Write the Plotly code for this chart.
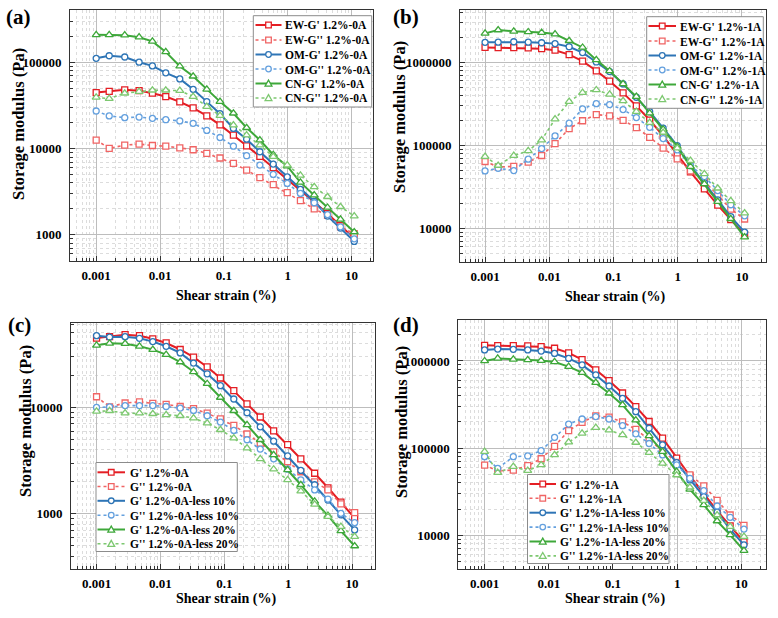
import plotly.graph_objects as go

# ---------------- data ----------------
STRAIN = [0.001, 0.0016, 0.0028, 0.0047, 0.0076, 0.0123, 0.0204, 0.033, 0.054, 0.087,
          0.141, 0.227, 0.366, 0.593, 0.982, 1.58, 2.6, 4.2, 6.7, 11.0]

# shared samples (panels a/c and b/d)
G1_0A = [44800, 46300, 48200, 47200, 44100, 40300, 35000, 29700, 24000, 18900,
         14400, 10800, 8130, 6030, 4480, 3290, 2410, 1760, 1290, 915]
G2_0A = [12600, 10100, 11000, 11300, 10900, 10700, 10200, 9730, 8830, 7800,
         6770, 5630, 4610, 3830, 3090, 2490, 2000, 1680, 1240, 1030]
G1_1A = [1.51e6, 1.50e6, 1.50e6, 1.49e6, 1.46e6, 1.40e6, 1.24e6, 1.035e6, 791000, 594000,
         429000, 299000, 202000, 130000, 76700, 48000, 30000, 19100, 12800, 8420]
G2_1A = [64000, 54800, 56000, 62900, 75600, 105000, 159000, 198000, 235000, 227000,
         200000, 164000, 125000, 92700, 68800, 49300, 37000, 25200, 17100, 13000]

# panel (a)
OM_G1_0A = [112000, 120000, 116000, 101000, 91500, 75900, 64600, 48900, 35200, 25500,
            17200, 12900, 9220, 6630, 4720, 3370, 2450, 1650, 1200, 840]
OM_G2_0A = [27400, 24000, 22900, 23300, 22500, 21700, 21000, 19700, 16300, 13500,
            10700, 8290, 6460, 5030, 3950, 3030, 2360, 1720, 1240, 900]
CN_G1_0A = [210000, 210000, 208000, 197000, 176000, 133000, 90700, 69300, 48900, 35200,
            25800, 17500, 12600, 8520, 6280, 4060, 2890, 2080, 1510, 1080]
CN_G2_0A = [39500, 38100, 44000, 46000, 47700, 47700, 47200, 40300, 30800, 24200,
            18800, 14400, 11000, 8080, 6460, 4900, 3610, 2770, 2120, 1650]

# panel (b)
OM_G1_1A = [1.74e6, 1.75e6, 1.77e6, 1.75e6, 1.72e6, 1.68e6, 1.54e6, 1.31e6, 1.01e6, 773000,
            550000, 380000, 255000, 161000, 99600, 57100, 35700, 22100, 13900, 9040]
OM_G2_1A = [49300, 53100, 49800, 68200, 91600, 130000, 185000, 275000, 318000, 310000,
            270000, 216000, 165000, 121000, 88300, 57000, 42200, 28600, 19300, 14200]
CN_G1_1A = [2.23e6, 2.45e6, 2.36e6, 2.32e6, 2.28e6, 2.19e6, 1.82e6, 1.51e6, 1.07e6, 787000,
            550000, 386000, 244000, 156000, 96800, 55600, 34400, 21100, 13100, 7870]
CN_G2_1A = [73400, 57300, 75500, 85900, 116000, 207000, 336000, 432000, 465000, 412000,
            343000, 255000, 188000, 143000, 92500, 65700, 45400, 30500, 21500, 15300]

# panel (c)
G1_0A_L10 = [47200, 45800, 46200, 44600, 41500, 37500, 32500, 26100, 20700, 16000,
             12000, 8910, 6580, 4820, 3510, 2560, 1880, 1350, 980, 708]
G2_0A_L10 = [10000, 10100, 10400, 10400, 10400, 10200, 9860, 9370, 8350, 7280,
             6080, 4970, 4060, 3290, 2630, 2090, 1680, 1380, 1010, 828]
G1_0A_L20 = [38300, 40000, 39700, 37500, 34900, 31300, 26700, 21600, 16700, 12400,
             9310, 6870, 4970, 3590, 2590, 1880, 1310, 965, 692, 500]
G2_0A_L20 = [9170, 9310, 8850, 8850, 8720, 8530, 8350, 7940, 7130, 6170,
             5150, 4150, 3290, 2630, 2090, 1640, 1230, 944, 761, 612]

# panel (d)
G1_1A_L10 = [1.34e6, 1.37e6, 1.36e6, 1.34e6, 1.30e6, 1.22e6, 1.07e6, 900000, 691000, 516000,
             373000, 262000, 169000, 109000, 68200, 43200, 27800, 18400, 11700, 7750]
G2_1A_L10 = [79800, 58700, 79800, 81300, 93600, 133000, 189000, 216000, 230000, 216000,
             181000, 146000, 113000, 83600, 64100, 45100, 32500, 21700, 16100, 11800]
G1_1A_L20 = [1.0e6, 1.07e6, 1.045e6, 1.03e6, 1.01e6, 975000, 861000, 735000, 564000, 426000,
             313000, 210000, 138000, 91200, 53700, 33700, 22300, 14600, 10100, 6670]
G2_1A_L20 = [91200, 52400, 61300, 55200, 64100, 83600, 117000, 148000, 172000, 161000,
             142000, 116000, 88800, 67000, 49200, 35600, 25000, 17100, 12600, 9660]

NAMES_A = ["EW-G' 1.2%-0A", "EW-G'' 1.2%-0A", "OM-G' 1.2%-0A", "OM-G'' 1.2%-0A",
           "CN-G' 1.2%-0A", "CN-G'' 1.2%-0A"]
NAMES_B = ["EW-G' 1.2%-1A", "EW-G'' 1.2%-1A", "OM-G' 1.2%-1A", "OM-G'' 1.2%-1A",
           "CN-G' 1.2%-1A", "CN-G'' 1.2%-1A"]
NAMES_C = ["G' 1.2%-0A", "G'' 1.2%-0A", "G' 1.2%-0A-less 10%", "G'' 1.2%-0A-less 10%",
           "G' 1.2%-0A-less 20%", "G'' 1.2%-0A-less 20%"]
NAMES_D = ["G' 1.2%-1A", "G'' 1.2%-1A", "G' 1.2%-1A-less 10%", "G'' 1.2%-1A-less 10%",
           "G' 1.2%-1A-less 20%", "G'' 1.2%-1A-less 20%"]

X_TICKS = [0.001, 0.01, 0.1, 1, 10]
X_TICKTEXT = ["0.001", "0.01", "0.1", "1", "10"]
Y_TICKS_A = [1000, 10000, 100000]
Y_TICKS_B = [10000, 100000, 1000000]
Y_TICKS_C = [1000, 10000]
Y_TICKS_D = [10000, 100000, 1000000]

# ---------------- styling ----------------
W, H = 778, 618
SERIF = "Liberation Serif, Times New Roman, serif"
RED, RED_L = "rgb(228,30,36)", "rgb(240,100,100)"
BLUE, BLUE_L = "rgb(46,117,182)", "rgb(100,160,222)"
GREEN, GREEN_L = "rgb(62,168,58)", "rgb(125,200,112)"
STYLES = [
    (RED, "solid", "square", 2.0),
    (RED_L, "dot", "square", 1.6),
    (BLUE, "solid", "circle", 2.0),
    (BLUE_L, "dot", "circle", 1.6),
    (GREEN, "solid", "triangle-up", 2.0),
    (GREEN_L, "dot", "triangle-up", 1.6),
]

def PX(x):
    return x / W

def PY(y):
    return 1 - y / H

fig = go.Figure()

panels = [
    ("x", "y", [G1_0A, G2_0A, OM_G1_0A, OM_G2_0A, CN_G1_0A, CN_G2_0A], NAMES_A),
    ("x2", "y2", [G1_1A, G2_1A, OM_G1_1A, OM_G2_1A, CN_G1_1A, CN_G2_1A], NAMES_B),
    ("x3", "y3", [G1_0A, G2_0A, G1_0A_L10, G2_0A_L10, G1_0A_L20, G2_0A_L20], NAMES_C),
    ("x4", "y4", [G1_1A, G2_1A, G1_1A_L10, G2_1A_L10, G1_1A_L20, G2_1A_L20], NAMES_D),
]
for xa, ya, series, names in panels:
    for vals, name, (col, dash, sym, lw) in zip(series, names, STYLES):
        fig.add_trace(go.Scatter(
            x=STRAIN, y=vals, name=name, xaxis=xa, yaxis=ya,
            mode="lines+markers", showlegend=False,
            line=dict(color=col, width=lw, dash=dash),
            marker=dict(symbol=sym, size=7 if "triangle" in sym else 6, color="white",
                        line=dict(color=col, width=1.3)),
        ))

minor_vals = [k * 10 ** e for e in range(-5, 8) for k in range(2, 10)]
tickfont = dict(family=SERIF, size=13, color="black", weight="bold")

def axis(domain, rng, anchor, tickvals, ticktext, standoff):
    return dict(
        type="log", domain=domain, range=rng, anchor=anchor,
        tickmode="array", tickvals=tickvals, ticktext=ticktext,
        tickfont=tickfont, ticks="inside", ticklen=5, tickcolor="#333",
        showline=True, mirror=True, linecolor="#333", linewidth=1,
        showgrid=True, gridcolor="#bdbdbd", gridwidth=1, zeroline=False,
        ticklabelstandoff=standoff,
        minor=dict(tickmode="array", tickvals=minor_vals, ticks="inside", ticklen=3,
                   tickcolor="#333", showgrid=True, gridcolor="#dcdcdc",
                   griddash="dot", gridwidth=1),
    )

def ylab(vals):
    return [str(v) for v in vals]

xd_a = [PX(70), PX(373.3)]
xd_b = [PX(460), PX(765.7)]
xd_c = [PX(71), PX(375)]
xd_d = [PX(458.3), PX(765.7)]
yd_a = [PY(260.7), PY(10)]
yd_b = [PY(261.7), PY(10)]
yd_c = [PY(569.3), PY(323.3)]
yd_d = [PY(569.3), PY(320)]

layout = dict(
    width=W, height=H, margin=dict(l=0, r=0, t=0, b=0),
    paper_bgcolor="white", plot_bgcolor="white", showlegend=False,
    xaxis=axis(xd_a, [-3.41, 1.34], "y", X_TICKS, X_TICKTEXT, 3),
    yaxis=axis(yd_a, [2.70, 5.61], "x", Y_TICKS_A, ylab(Y_TICKS_A), 5),
    xaxis2=axis(xd_b, [-3.39, 1.37], "y2", X_TICKS, X_TICKTEXT, 3),
    yaxis2=axis(yd_b, [3.60, 6.63], "x2", Y_TICKS_B, ylab(Y_TICKS_B), 5),
    xaxis3=axis(xd_c, [-3.40, 1.36], "y3", X_TICKS, X_TICKTEXT, 2),
    yaxis3=axis(yd_c, [2.48, 4.79], "x3", Y_TICKS_C, ylab(Y_TICKS_C), 5),
    xaxis4=axis(xd_d, [-3.41, 1.38], "y4", X_TICKS, X_TICKTEXT, 2),
    yaxis4=axis(yd_d, [3.61, 6.47], "x4", Y_TICKS_D, ylab(Y_TICKS_D), 5),
)
fig.update_layout(**layout)

annotations = []
shapes = []

# panel labels
for lab, x, y in [("(a)", 4, 17), ("(b)", 391, 17), ("(c)", 6, 325), ("(d)", 391, 325)]:
    annotations.append(dict(text=lab, x=PX(x), y=PY(y), xref="paper", yref="paper",
                            xanchor="left", yanchor="middle", showarrow=False,
                            font=dict(family=SERIF, size=21, color="black", weight="bold")))
# axis titles
for x, y in [(226, 296), (614.5, 297), (226, 599), (614.5, 599)]:
    annotations.append(dict(text="Shear strain (%)", x=PX(x), y=PY(y), xref="paper", yref="paper",
                            xanchor="center", yanchor="middle", showarrow=False,
                            font=dict(family=SERIF, size=14, color="black", weight="bold")))
for x, y in [(18, 124), (399, 117), (25, 421), (401, 422)]:
    annotations.append(dict(text="Storage modulus (Pa)", x=PX(x), y=PY(y), xref="paper", yref="paper",
                            xanchor="center", yanchor="middle", showarrow=False, textangle=-90,
                            font=dict(family=SERIF, size=16.5, color="black", weight="bold")))

# legends (drawn as layout decorations)
def legend(box, rows, lx0, lx1, tx, names):
    x0, y0, x1, y1 = box
    shapes.append(dict(type="rect", xref="paper", yref="paper", x0=PX(x0), x1=PX(x1),
                       y0=PY(y1), y1=PY(y0), fillcolor="white",
                       line=dict(color="#8c8c8c", width=1)))
    mx = (lx0 + lx1) / 2
    r = 2.8
    for ry, name, (col, dash, sym, lw) in zip(rows, names, STYLES):
        shapes.append(dict(type="line", xref="paper", yref="paper", x0=PX(lx0), x1=PX(lx1),
                           y0=PY(ry), y1=PY(ry), line=dict(color=col, width=lw, dash=dash)))
        mk = dict(xref="paper", yref="paper", fillcolor="white", line=dict(color=col, width=1.3))
        if sym == "square":
            shapes.append(dict(type="rect", x0=PX(mx - r), x1=PX(mx + r),
                               y0=PY(ry + r), y1=PY(ry - r), **mk))
        elif sym == "circle":
            shapes.append(dict(type="circle", x0=PX(mx - r), x1=PX(mx + r),
                               y0=PY(ry + r), y1=PY(ry - r), **mk))
        else:
            t = 3.4
            path = "M {},{} L {},{} L {},{} Z".format(
                PX(mx), PY(ry - t), PX(mx + t), PY(ry + t * 0.75), PX(mx - t), PY(ry + t * 0.75))
            shapes.append(dict(type="path", path=path, **mk))
        annotations.append(dict(text=name, x=PX(tx), y=PY(ry + 0.5), xref="paper", yref="paper",
                                xanchor="left", yanchor="middle", showarrow=False,
                                font=dict(family=SERIF, size=11.5, color="black", weight="bold")))

legend((253.3, 15.7, 371.7, 107), [25, 40, 54.5, 69, 83.5, 98], 255.5, 281.5, 283, NAMES_A)
legend((646.7, 16.7, 763.3, 108.3), [26, 41, 55.5, 70, 84.5, 99], 648.5, 676, 677.5, NAMES_B)
legend((96, 462.5, 237.3, 551.5), [472.3, 486.5, 500.8, 515.2, 529.5, 543.8], 97.5, 125, 127.5, NAMES_C)
legend((527.5, 474.5, 669, 563.5), [484, 498.3, 512.7, 527.1, 541.5, 555.9], 529.5, 556, 558, NAMES_D)

fig.update_layout(annotations=annotations, shapes=shapes)
fig.write_html("out.html")
